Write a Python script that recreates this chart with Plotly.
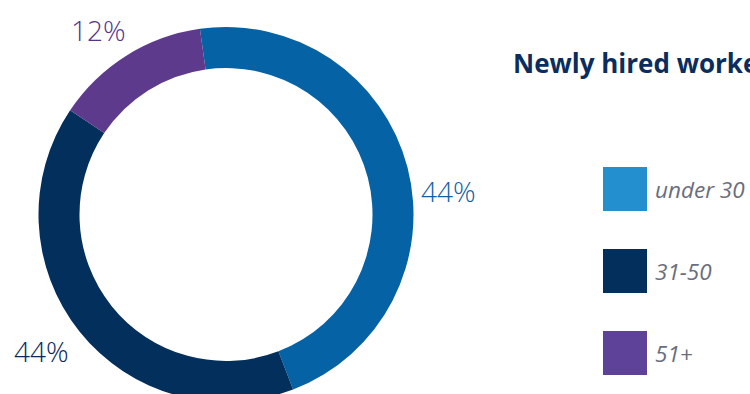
import plotly.graph_objects as go

# ---- data ----
categories = ["under 30", "31-50", "51+"]
shares = [46.4, 40.2, 13.4]          # slice sizes as drawn in the ring
label_texts = ["44%", "44%", "12%"]  # printed labels
slice_colors = ["#0562A4", "#032F5D", "#5D3A8B"]
legend_colors = ["#238FCF", "#032F5D", "#5E4299"]
label_colors = ["#135FA5", "#08295A", "#55358A"]
title_text = "Newly hired workers"

W, H = 750, 404


def fx(x):
    return x / W


def fy(y):
    return (H - y) / H


cx, cy, r_out, r_in = 226, 214.5, 187.5, 146.5

fig = go.Figure(
    go.Pie(
        labels=categories,
        values=shares,
        sort=False,
        direction="clockwise",
        rotation=-8,
        hole=r_in / r_out,
        marker=dict(colors=slice_colors, line=dict(width=0)),
        textinfo="none",
        hoverinfo="label",
        showlegend=False,
        domain=dict(x=[fx(cx - r_out), fx(cx + r_out)], y=[fy(cy + r_out), fy(cy - r_out)]),
    )
)

annotations = []
shapes = []

# percentage labels
label_pos = [(448, 190.5), (41, 350.5), (98.5, 30)]
for txt, col, (lx, ly) in zip(label_texts, label_colors, label_pos):
    annotations.append(dict(
        x=fx(lx), y=fy(ly), xref="paper", yref="paper", text=txt, showarrow=False,
        xanchor="center", yanchor="middle",
        font=dict(family="Open Sans", size=28, color=col, weight=300),
    ))

# title
annotations.append(dict(
    x=fx(511), y=fy(62.5), xref="paper", yref="paper", text=title_text, showarrow=False,
    xanchor="left", yanchor="middle",
    font=dict(family="Open Sans", size=26, color="#0A2D5E", weight=700),
))

# custom legend
row_y = [189, 271, 353]
for cat, col, ry in zip(categories, legend_colors, row_y):
    shapes.append(dict(
        type="rect", xref="paper", yref="paper",
        x0=fx(603), x1=fx(647), y0=fy(ry + 22), y1=fy(ry - 22),
        fillcolor=col, line=dict(width=0),
    ))
    annotations.append(dict(
        x=fx(653), y=fy(ry), xref="paper", yref="paper", text=f"<i>{cat}</i>", showarrow=False,
        xanchor="left", yanchor="middle",
        font=dict(family="Open Sans", size=22.5, color="#6A6D7C"),
    ))

fig.update_layout(
    width=W, height=H,
    margin=dict(l=0, r=0, t=0, b=0),
    paper_bgcolor="white", plot_bgcolor="white",
    annotations=annotations, shapes=shapes,
    showlegend=False,
)

fig.write_html("out.html")
